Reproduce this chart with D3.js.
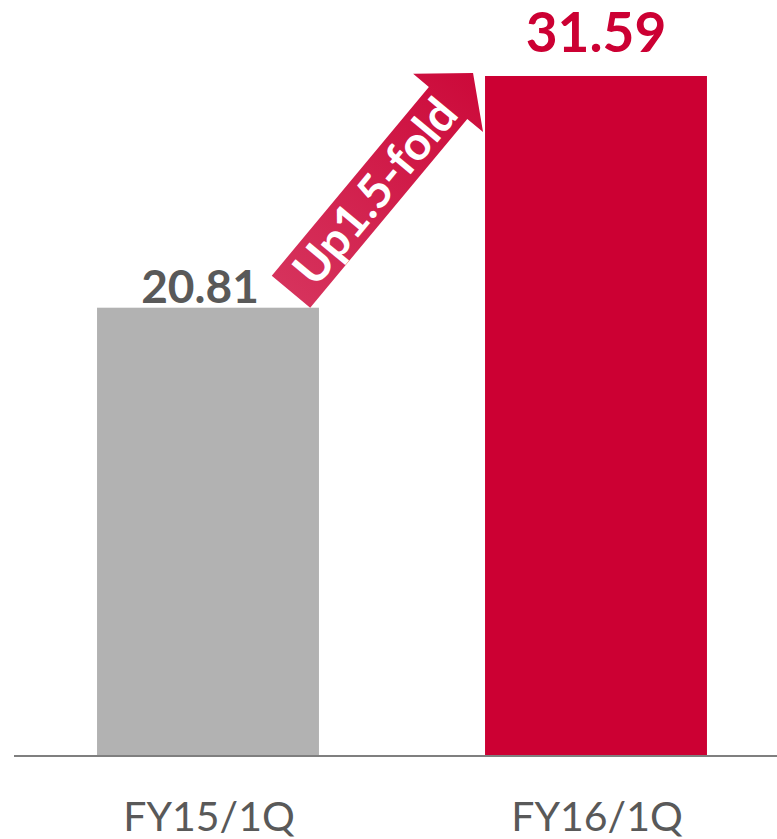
<!DOCTYPE html>
<html>
<head>
<meta charset="utf-8">
<script src="https://cdn.jsdelivr.net/npm/d3@7"></script>
<style>
  html, body { margin: 0; padding: 0; background: #ffffff; }
  svg { display: block; }
</style>
</head>
<body>
<svg id="chart" width="777" height="839"></svg>
<script>
// Quarterly figures
const categories = ["FY15/1Q", "FY16/1Q"];
const values = [20.81, 31.59];
const valueLabels = ["20.81", "31.59"];
const barColors = ["#b2b2b2", "#cc0033"];
const labelColors = ["#595959", "#cc0033"];
const growthText = "Up1.5-fold";

const width = 777, height = 839;
const svg = d3.select("#chart");

const x = d3.scaleBand()
  .domain(categories)
  .range([14, 790])
  .paddingInner(0.428)
  .paddingOuter(0.214);

const y = d3.scaleLinear()
  .domain([0, 35])
  .range([755, 2.7]);

// Bars
svg.selectAll("rect.bar")
  .data(values)
  .join("rect")
  .attr("class", "bar")
  .attr("x", (d, i) => x(categories[i]))
  .attr("y", d => y(d))
  .attr("width", x.bandwidth())
  .attr("height", d => y(0) - y(d))
  .attr("fill", (d, i) => barColors[i]);

// Baseline
svg.append("line")
  .attr("x1", 14).attr("x2", width)
  .attr("y1", y(0) + 1).attr("y2", y(0) + 1)
  .attr("stroke", "#7f7f7f")
  .attr("stroke-width", 2);

// Category labels
svg.selectAll("text.cat")
  .data(categories)
  .join("text")
  .attr("class", "cat")
  .attr("x", d => x(d) + x.bandwidth() / 2 + 1)
  .attr("y", 831)
  .attr("text-anchor", "middle")
  .attr("font-family", "Lato, 'Open Sans', sans-serif")
  .attr("font-size", 41)
  .attr("fill", "#595959")
  .text(d => d);

// Value labels
const valueSizes = [46, 55];
const valueOffsets = [-8, 0];
svg.selectAll("text.val")
  .data(values)
  .join("text")
  .attr("class", "val")
  .attr("x", (d, i) => x(categories[i]) + x.bandwidth() / 2 + valueOffsets[i])
  .attr("y", (d, i) => y(d) - (i === 0 ? 5 : 24))
  .attr("text-anchor", "middle")
  .attr("font-family", "Lato, 'Open Sans', sans-serif")
  .attr("font-weight", 700)
  .attr("font-size", (d, i) => valueSizes[i])
  .attr("fill", (d, i) => labelColors[i])
  .text((d, i) => valueLabels[i]);

// Growth arrow: from the top-right of the first bar toward the top-left of the second
const start = [x(categories[0]) + x.bandwidth() - 28, y(values[0]) - 16];
const tip = [x(categories[1]) - 12, y(values[1]) - 3];
const dx = tip[0] - start[0], dy = tip[1] - start[1];
const len = Math.hypot(dx, dy);
const angle = Math.atan2(dy, dx) * 180 / Math.PI;
const headLen = 39, shaftHalf = 25, headHalf = 45.5;

const defs = svg.append("defs");
const grad = defs.append("linearGradient")
  .attr("id", "arrowGrad")
  .attr("gradientUnits", "userSpaceOnUse")
  .attr("x1", 0).attr("y1", 0).attr("x2", len).attr("y2", 0);
grad.append("stop").attr("offset", "0%").attr("stop-color", "#d6325c");
grad.append("stop").attr("offset", "100%").attr("stop-color", "#cc0a3a");

const arrow = svg.append("g")
  .attr("transform", `translate(${start[0]},${start[1]}) rotate(${angle})`);

arrow.append("path")
  .attr("d", d3.line()([
    [0, -shaftHalf], [len - headLen, -shaftHalf], [len - headLen, -headHalf],
    [len, 0],
    [len - headLen, headHalf], [len - headLen, shaftHalf], [0, shaftHalf]
  ]) + "Z")
  .attr("fill", "url(#arrowGrad)");

arrow.append("text")
  .attr("x", 131)
  .attr("y", 0)
  .attr("dy", "0.36em")
  .attr("text-anchor", "middle")
  .attr("font-family", "Lato, 'Open Sans', sans-serif")
  .attr("font-weight", 700)
  .attr("font-size", 47)
  .attr("fill", "#ffffff")
  .text(growthText);
</script>
</body>
</html>
